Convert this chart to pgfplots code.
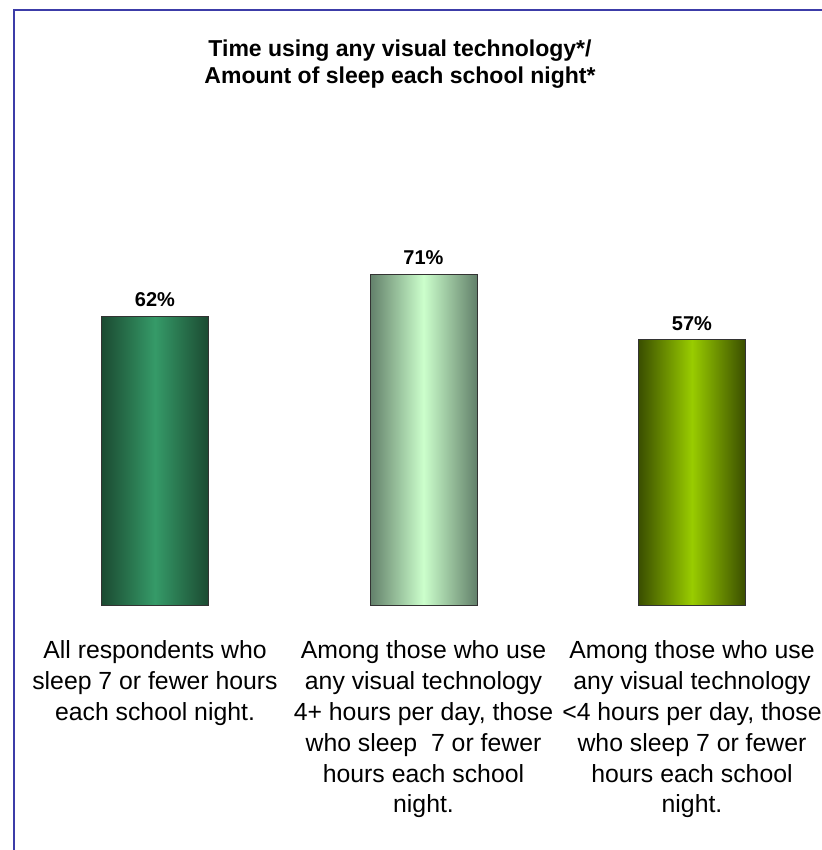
\documentclass[border=0pt]{standalone}
\usepackage{fontspec}
\setmainfont{Liberation Sans}
\usepackage{pgfplots}
\pgfplotsset{compat=1.18}
\definecolor{frameblue}{HTML}{3C3CA8}
\definecolor{gAd}{HTML}{1B4A31}
\definecolor{gAm}{HTML}{359A68}
\definecolor{gBd}{HTML}{62806A}
\definecolor{gBm}{HTML}{CCFFCC}
\definecolor{gCd}{HTML}{3A4E00}
\definecolor{gCm}{HTML}{99CC00}
\begin{document}
\begin{tikzpicture}
\begin{scope}[x=0.75pt,y=0.75pt]
\useasboundingbox (0,0) rectangle (820,850);
\draw[frameblue, line width=1.4pt] (14,-5) -- (14,840) -- (830,840);
\node[anchor=base, font=\bfseries\fontsize{17.25pt}{20pt}\selectfont] at (400,793) {Time using any visual technology*/};
\node[anchor=base, font=\bfseries\fontsize{17.25pt}{20pt}\selectfont] at (400,766) {Amount of sleep each school night*};
\end{scope}
\begin{axis}[
  at={(35.7pt,183.75pt)}, anchor=south west,
  scale only axis, width=563.85pt, height=349.5pt,
  xmin=0.6, xmax=3.4, ymin=0, ymax=100,
  ybar, bar width=80.25pt, bar shift=0pt,
  axis line style={draw=none}, tick style={draw=none},
  ytick=\empty, xtick={1,2,3},
  xticklabels={{All respondents who\\sleep 7 or fewer hours\\each school night.},
               {Among those who use\\any visual technology\\4+ hours per day, those\\who sleep\ \ 7 or fewer\\hours each school\\night.},
               {Among those who use\\any visual technology\\<4 hours per day, those\\who sleep 7 or fewer\\hours each school\\night.}},
  xticklabel style={align=center, anchor=north, inner sep=0pt, yshift=-22.5pt,
     font=\fontsize{18.6pt}{23.1pt}\selectfont},
  /pgf/number format/assume math mode=true,
  nodes near coords={\pgfmathprintnumber{\pgfplotspointmeta}\%},
  every node near coord/.append style={anchor=base, inner sep=0pt, yshift=7pt,
     font=\bfseries\fontsize{15pt}{18pt}\selectfont, text=black},
  clip=false,
]
\addplot[draw=black!80, line width=0.6pt, left color=gAd, right color=gAd, middle color=gAm] coordinates {(1,62)};
\addplot[draw=black!80, line width=0.6pt, left color=gBd, right color=gBd, middle color=gBm] coordinates {(2,71)};
\addplot[draw=black!80, line width=0.6pt, left color=gCd, right color=gCd, middle color=gCm] coordinates {(3,57)};
\end{axis}
\end{tikzpicture}
\end{document}
